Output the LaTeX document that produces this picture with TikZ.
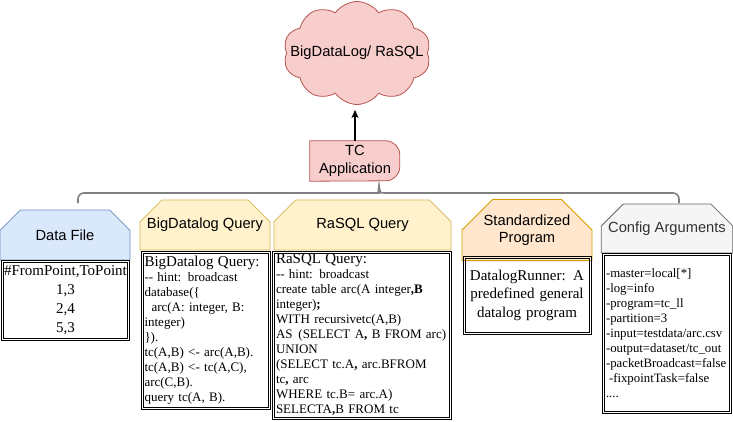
\documentclass[tikz,border=0pt]{standalone}
\usepackage{fontspec}
\setmainfont{Liberation Serif}
\setsansfont{Liberation Sans}
\usetikzlibrary{shapes.misc,shapes.symbols,arrows.meta,backgrounds}

\definecolor{appFill}{HTML}{F8CECC}
\definecolor{appLine}{HTML}{B85450}
\definecolor{dataFill}{HTML}{DAE8FC}
\definecolor{dataLine}{HTML}{6C8EBF}
\definecolor{queryFill}{HTML}{FFF2CC}
\definecolor{queryLine}{HTML}{D6B656}
\definecolor{progFill}{HTML}{FFE6CC}
\definecolor{progLine}{HTML}{D79B00}
\definecolor{confFill}{HTML}{F5F5F5}
\definecolor{confLine}{HTML}{666666}
\definecolor{confText}{HTML}{333333}
\definecolor{braceLine}{HTML}{808080}

\tikzset{
	headbox/.style={chamfered rectangle, chamfered rectangle corners={north west,north east},
		chamfered rectangle xsep=16pt, chamfered rectangle ysep=15pt,
		minimum width=130pt, minimum height=50pt, inner sep=0pt, line width=0.8pt,
		align=center, font=\sffamily\fontsize{14.7}{17.5}\selectfont},
	codebox/.style={draw, line width=0.7pt, inner xsep=3.5pt, inner ysep=0pt,
		align=left, font=\fontsize{13}{15}\selectfont},
	app/.style={fill=appFill, draw=appLine, line width=0.8pt},
}

\begin{document}
\begin{tikzpicture}[x=1pt,y=-1pt]
	\useasboundingbox (0,0) rectangle (733,421);
	
	\node[cloud, cloud puffs=10, cloud puff arc=110, cloud ignores aspect, inner xsep=-13pt, inner ysep=0pt,
		app, minimum width=0pt, minimum height=103pt,
		font=\sffamily\fontsize{14.7}{17}\selectfont] (cloud) at (357,53) {BigDataLog/ RaSQL};
	\node[minimum width=90pt, minimum height=40pt, inner sep=0pt, align=center,
		font=\sffamily\fontsize{14.7}{18}\selectfont] (tc) at (355,161) {TC\\Application};
	\begin{scope}[on background layer]
		\draw[app] (tc.south west) -- (tc.north west) -- ++(76,0)
			arc[start angle=270, end angle=360, radius=14] -- ++(0,12)
			arc[start angle=0, end angle=90, radius=14] -- cycle;
	\end{scope}
	
	% headers
	\node[headbox, fill=dataFill, draw=dataLine] (dataHead) at (65,235) {Data File};
	\node[headbox, fill=queryFill, draw=queryLine] (bdHead) at (205,225) {BigDatalog Query};
	\node[headbox, fill=queryFill, draw=queryLine, minimum width=177pt] (rsHead) at (362.5,225) {RaSQL Query};
	\node[headbox, fill=progFill, draw=progLine] (progHead) at (527,230) {Standardized\\Program};
	\node[headbox, fill=confFill, draw=confLine, text=confText, minimum height=49pt] (confHead) at (667,228.5) {Config Arguments};
	
	% bodies
	\node[codebox, inner xsep=1pt, align=center, text width=126pt, minimum height=80pt,
		font=\fontsize{15}{19}\selectfont] (dataBody) at (65.5,300)
		{\#FromPoint,ToPoint\\1,3\\2,4\\5,3};
	\node[codebox, text width=122pt, minimum height=158pt] (bdBody) at (205.5,330)
		{{\fontsize{15}{15}\selectfont BigDatalog Query:}\\
		{-}{-} hint: broadcast\\
		database(\{\\
		\hspace*{7pt}arc(A: integer, B:\\
		integer)\\
		\}).\\
		tc(A,B) <- arc(A,B).\\
		tc(A,B) <- tc(A,C),\\
		arc(C,B).\\
		query tc(A, B).};
	\node[codebox, text width=172pt, minimum height=168pt] (rsBody) at (362,335)
		{{\fontsize{15}{15}\selectfont RaSQL Query:}\\
		{-}{-} hint: broadcast\\
		create table arc(A integer\textbf{,B}\\
		integer)\textbf{;}\\
		WITH recursivetc(A,B)\\
		\mbox{AS\hspace{1.5pt} (SELECT A\textbf{,} B FROM arc)}\\
		UNION\\
		(SELECT tc.A\textbf{,} arc.BFROM\\
		tc\textbf{,} arc\\
		WHERE tc.B= arc.A)\\
		SELECTA\textbf{,}B FROM tc};
	\node[codebox, align=center, text width=121pt, minimum height=78pt,
		font=\fontsize{15}{18.5}\selectfont] (progBody) at (527,295)
		{DatalogRunner: A\\predefined general\\datalog program};
	\node[codebox, text width=122pt, minimum height=160pt,
		font=\fontsize{12.8}{15}\selectfont] (confBody) at (667,333)
		{-master=local[*]\\
		-log=info\\
		-program=tc\_ll\\
		-partition=3\\
		-input=testdata/arc.csv\\
		-output=dataset/tc\_out\\
		\mbox{-packetBroadcast=false}\\
		\hspace*{3pt}-fixpointTask=false\\
		....};
	
	% inner lines of the double borders
	\draw[line width=0.7pt]
		([shift={(2.3,2.3)}]dataBody.north west) rectangle ([shift={(-2.3,-2.3)}]dataBody.south east)
		([shift={(2.3,2.3)}]bdBody.north west) rectangle ([shift={(-2.3,-2.3)}]bdBody.south east)
		([shift={(2.3,2.3)}]rsBody.north west) rectangle ([shift={(-2.3,-2.3)}]rsBody.south east)
		([shift={(2.3,2.3)}]progBody.north west) rectangle ([shift={(-2.3,-2.3)}]progBody.south east)
		([shift={(2.3,2.3)}]confBody.north west) rectangle ([shift={(-2.3,-2.3)}]confBody.south east);
	
	% connectors
	\draw[line width=1.1pt, -{Stealth[length=8pt,width=7pt,inset=2pt]}, shorten >=5pt]
		(tc.north) -- (tc.north |- cloud.south);
	\coordinate (braceL) at (78,203);
	\coordinate (braceR) at (679,203);
	\coordinate (braceTip) at (379,185);
	\draw[braceLine, line width=1.6pt] (braceL) [rounded corners=6pt] -- (78,193) -- (373,193)
		[sharp corners] .. controls (378,193) .. (braceTip) .. controls (380,193) .. (385,193)
		[rounded corners=6pt] -- (679,193) -- (braceR);
\end{tikzpicture}
\end{document}
